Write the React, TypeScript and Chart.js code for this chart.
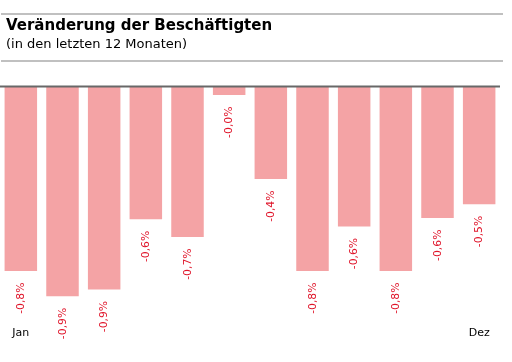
import React, { useEffect, useRef } from "react";
import { Chart, registerables } from "chart.js";

Chart.register(...registerables);

const months = ["Jan", "Feb", "Mär", "Apr", "Mai", "Jun", "Jul", "Aug", "Sep", "Okt", "Nov", "Dez"];
const changes = [-0.8, -0.91, -0.88, -0.575, -0.652, -0.035, -0.4, -0.8, -0.606, -0.8, -0.57, -0.51];
const shownTicks = ["Jan", "Dez"];
const titleText = "Veränderung der Beschäftigten";
const subtitleText = "(in den letzten 12 Monaten)";

const fmt = (v: number) => v.toFixed(1).replace(".", ",") + "%";

const overlay = {
  id: "overlay",
  afterDatasetsDraw(chart: any) {
    const { ctx, chartArea } = chart;
    const y0 = chart.scales.y.getPixelForValue(0);
    ctx.save();
    ctx.fillStyle = "#686868";
    ctx.fillRect(chartArea.left, y0 - 1.5, chartArea.right - chartArea.left, 2);
    const meta = chart.getDatasetMeta(0);
    ctx.font = '10.8px "DejaVu Sans"';
    ctx.fillStyle = "#e0162b";
    meta.data.forEach((bar: any, i: number) => {
      ctx.save();
      ctx.translate(bar.x + 0.5, bar.y + 11.5);
      ctx.rotate(-Math.PI / 2);
      ctx.textAlign = "right";
      ctx.textBaseline = "middle";
      ctx.fillText(fmt(changes[i]), 0, 0);
      ctx.restore();
    });
    ctx.restore();
  },
};

export default function App() {
  const ref = useRef<HTMLCanvasElement>(null);
  useEffect(() => {
    if (!ref.current) return;
    const chart = new Chart(ref.current, {
      type: "bar",
      data: {
        labels: months,
        datasets: [
          {
            data: changes,
            backgroundColor: "#f4a3a5",
            borderWidth: 0,
            barPercentage: 0.78,
            categoryPercentage: 1,
          },
        ],
      },
      options: {
        animation: false,
        responsive: false,
        devicePixelRatio: 1,
        layout: { padding: { top: 87, left: 0, right: 12, bottom: 0 } },
        plugins: { legend: { display: false }, tooltip: { enabled: false } },
        scales: {
          y: { display: false, min: -1, max: 0 },
          x: {
            grid: { display: false, drawTicks: false },
            border: { display: false },
            ticks: {
              autoSkip: false,
              maxRotation: 0,
              padding: 10,
              color: "#000",
              font: { family: "DejaVu Sans", size: 11 },
              callback: (_v: any, i: number) => (shownTicks.includes(months[i]) ? months[i] : ""),
            },
            afterFit: (s: any) => {
              s.height = 45;
            },
          },
        },
      },
      plugins: [overlay],
    });
    return () => chart.destroy();
  }, []);

  return (
    <div style={{ position: "fixed", left: 0, top: 0, width: 512, height: 362, background: "#fff" }}>
      <canvas ref={ref} width={512} height={362} style={{ position: "absolute", left: 0, top: 0 }} />
      <div
        style={{
          position: "absolute",
          top: 13,
          left: 1,
          width: 502,
          height: 49,
          boxSizing: "border-box",
          borderTop: "2px solid #c0c0c0",
          borderBottom: "2px solid #c0c0c0",
          paddingLeft: 5,
          fontFamily: '"DejaVu Sans", sans-serif',
          color: "#000",
        }}
      >
        <div style={{ fontSize: 15, fontWeight: "bold", lineHeight: "17px", paddingTop: 2 }}>{titleText}</div>
        <div style={{ fontSize: 13, lineHeight: "16px", marginTop: 2 }}>{subtitleText}</div>
      </div>
    </div>
  );
}
